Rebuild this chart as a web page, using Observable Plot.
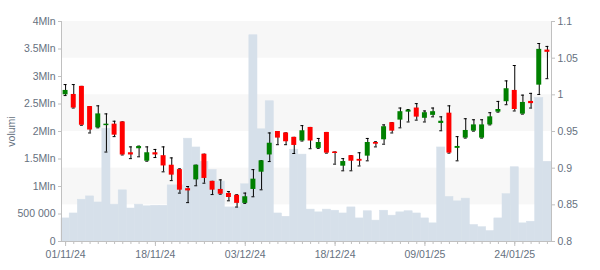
<!DOCTYPE html>
<html><head><meta charset="utf-8">
<script src="https://cdn.jsdelivr.net/npm/d3@7"></script>
<script src="https://cdn.jsdelivr.net/npm/@observablehq/plot@0.6"></script>
<style>
body{margin:0;background:#fff;}
#chart{position:relative;width:600px;height:270px;}
#chart svg{position:absolute;left:0;top:0;}
</style></head><body><div id="chart"></div>
<script>
const dates = ["01/11/24","04/11/24","05/11/24","06/11/24","07/11/24","08/11/24","11/11/24","12/11/24","13/11/24","14/11/24","15/11/24","18/11/24","19/11/24","20/11/24","21/11/24","22/11/24","25/11/24","26/11/24","27/11/24","28/11/24","29/11/24","02/12/24","03/12/24","04/12/24","05/12/24","06/12/24","09/12/24","10/12/24","11/12/24","12/12/24","13/12/24","16/12/24","17/12/24","18/12/24","19/12/24","20/12/24","23/12/24","27/12/24","30/12/24","02/01/25","03/01/25","06/01/25","07/01/25","08/01/25","09/01/25","10/01/25","13/01/25","14/01/25","15/01/25","16/01/25","17/01/25","20/01/25","21/01/25","22/01/25","23/01/25","24/01/25","27/01/25","28/01/25","29/01/25","30/01/25"];
const open  = [1.000,1.0005,1.0115,0.984,0.955,0.958,0.960,0.963,0.921,0.9265,0.9095,0.921,0.917,0.904,0.898,0.872,0.884,0.919,0.882,0.871,0.8655,0.863,0.852,0.871,0.8945,0.918,0.950,0.948,0.942,0.937,0.9555,0.927,0.9487,0.922,0.9027,0.917,0.912,0.9164,0.935,0.9387,0.962,0.9655,0.9764,0.982,0.968,0.972,0.961,0.975,0.927,0.941,0.9505,0.941,0.959,0.9764,0.9906,1.006,0.9737,0.991,1.0132,1.061];
const high  = [1.014,1.014,1.0115,0.984,0.985,0.974,0.964,0.963,0.929,0.930,0.929,0.9255,0.929,0.914,0.899,0.875,0.904,0.919,0.882,0.884,0.868,0.8637,0.866,0.898,0.910,0.948,0.950,0.948,0.942,0.958,0.9555,0.9405,0.9487,0.922,0.913,0.917,0.921,0.9405,0.936,0.959,0.962,0.982,0.980,0.988,0.978,0.982,0.970,0.985,0.943,0.9674,0.966,0.966,0.9756,0.991,1.019,1.040,0.9996,1.002,1.070,1.066];
const low   = [0.999,0.982,0.9585,0.948,0.955,0.922,0.943,0.918,0.913,0.9155,0.9095,0.9145,0.895,0.883,0.866,0.853,0.876,0.8795,0.864,0.8645,0.8555,0.847,0.852,0.861,0.8705,0.909,0.932,0.932,0.920,0.937,0.9265,0.927,0.9205,0.9055,0.8964,0.8964,0.903,0.910,0.929,0.9327,0.948,0.955,0.963,0.9655,0.963,0.970,0.951,0.9205,0.910,0.941,0.9505,0.941,0.959,0.9764,0.9865,0.978,0.9737,0.982,1.0005,1.022];
const close = [1.006,0.982,0.9585,0.952,0.974,0.960,0.945,0.918,0.918,0.9295,0.921,0.918,0.903,0.8905,0.870,0.869,0.904,0.886,0.870,0.8645,0.860,0.852,0.861,0.885,0.910,0.934,0.941,0.936,0.931,0.951,0.937,0.935,0.9205,0.920,0.909,0.9095,0.9095,0.935,0.9327,0.9565,0.9505,0.977,0.979,0.9696,0.9756,0.977,0.964,0.9205,0.9296,0.9514,0.959,0.959,0.970,0.980,1.0083,0.980,0.9896,0.988,1.062,1.058];
const volume = [0.42,0.51,0.76,0.82,0.71,2.05,0.67,0.93,0.60,0.67,0.64,0.65,0.65,1.02,1.02,1.87,1.71,1.45,1.30,1.09,0.62,0.62,1.04,3.75,2.04,2.55,0.51,0.45,1.67,1.58,0.58,0.53,0.58,0.56,0.51,0.62,0.42,0.55,0.38,0.56,0.47,0.53,0.55,0.51,0.42,0.33,1.71,0.81,0.73,0.78,0.30,0.26,0.19,0.42,0.86,1.35,0.33,0.36,2.61,1.45];
const labelDates = ["01/11/24","18/11/24","03/12/24","18/12/24","09/01/25","24/01/25"];
const volTicks = [0,0.5,1,1.5,2,2.5,3,3.5,4];
const volTickLabels = ["0","500 000","1Mln","1.5Mln","2Mln","2.5Mln","3Mln","3.5Mln","4Mln"];
const priceTicks = [0.8,0.85,0.9,0.95,1,1.05,1.1];
const priceTickLabels = ["0.8","0.85","0.9","0.95","1","1.05","1.1"];
const bandLow = [0.85,0.95,1.05];
const bandHigh = [0.9,1.0,1.1];

const rows = dates.map((d,i)=>({date:d,open:open[i],high:high[i],low:low[i],close:close[i],vol:volume[i],col:close[i]>=open[i]?"#008000":"#ff0000"}));
const bands = bandLow.map((l,i)=>({lo:l,hi:bandHigh[i]}));

const textColor = "#667180";
const axisColor = "#c0c0c0";
const volColor = "#d6e0ea";
const common = {
  width:600, height:270, marginTop:21, marginRight:49, marginBottom:29, marginLeft:61,
  style:{background:"transparent", fontFamily:"'Liberation Sans', Arial, sans-serif", fontSize:"10.5px", color:textColor, overflow:"visible"}
};

const back = Plot.plot({
  ...common,
  x:{domain:[0,1], axis:null},
  y:{domain:[0.8,1.1], axis:null},
  marks:[
    Plot.rect(bands,{x1:0, x2:1, y1:"lo", y2:"hi", fill:"#f7f7f7"}),
    Plot.axisY(priceTicks,{anchor:"right", tickSize:3, tickPadding:3, stroke:axisColor, tickFormat:d=>priceTickLabels[priceTicks.indexOf(d)], label:null})
  ]
});

const vol = Plot.plot({
  ...common,
  x:{type:"band", domain:dates, padding:0, round:false, axis:null},
  y:{domain:[0,4], axis:null},
  marks:[
    Plot.barY(rows,{x:"date", y:"vol", fill:volColor, stroke:volColor, strokeWidth:0.5}),
    Plot.axisY(volTicks,{anchor:"left", tickSize:3, tickPadding:3, stroke:axisColor, tickFormat:d=>volTickLabels[volTicks.indexOf(d)], label:"volumi", labelAnchor:"center", labelOffset:54, labelArrow:"none"}),
    Plot.axisX(dates,{anchor:"bottom", tickSize:3, stroke:axisColor, tickFormat:()=>"", label:null}),
    Plot.axisX(labelDates,{anchor:"bottom", tickSize:5, tickPadding:4, stroke:axisColor, tickFormat:d=>d, label:null})
  ]
});

const candles = Plot.plot({
  ...common,
  x:{type:"band", domain:dates, padding:0, round:false, axis:null},
  y:{domain:[0.8,1.1], axis:null},
  marks:[
    Plot.ruleX(rows,{x:"date", y1:"low", y2:"high", stroke:"#000", strokeWidth:1}),
    Plot.tickY(rows,{x:"date", y:"high", stroke:"#000", insetLeft:2.6, insetRight:2.6}),
    Plot.tickY(rows,{x:"date", y:"low", stroke:"#000", insetLeft:2.6, insetRight:2.6}),
    Plot.barY(rows,{x:"date", y1:"open", y2:"close", fill:"col", insetLeft:1.6, insetRight:1.6}),
    Plot.frame({anchor:"left", stroke:axisColor}),
    Plot.frame({anchor:"right", stroke:axisColor}),
    Plot.frame({anchor:"bottom", stroke:axisColor})
  ]
});

const el = document.getElementById("chart");
el.append(back, vol, candles);
</script>
</body></html>
